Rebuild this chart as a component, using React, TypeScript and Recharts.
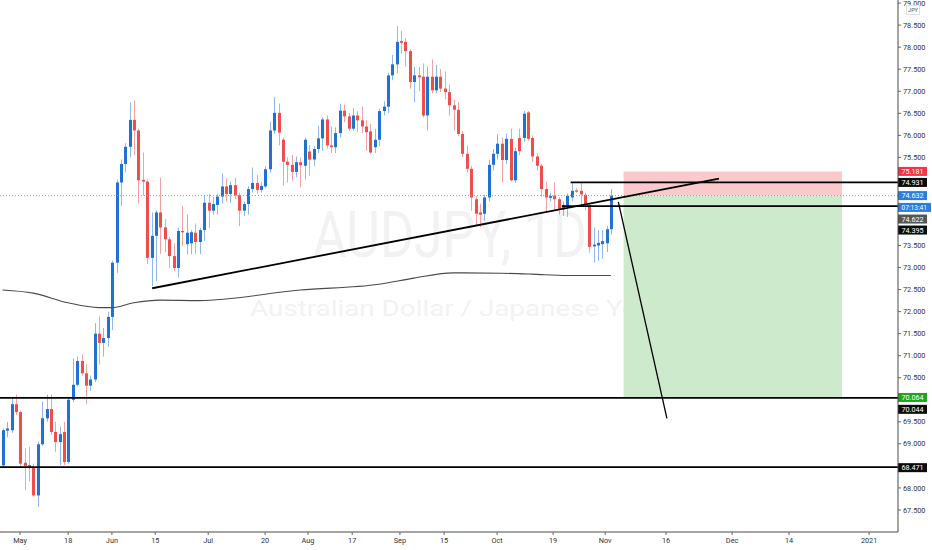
import React from 'react';
import {
  ComposedChart,
  Bar,
  Line,
  XAxis,
  YAxis,
  ReferenceLine,
  ReferenceArea,
} from 'recharts';

// AUDJPY daily candles, bar index 0 = 1 May 2020
const FIRST_INDEX = -4;

const opens = [
  68.51, 69.3, 69.31, 69.9, 69.72, 68.57, 68.52, 68.48, 67.83, 68.99,
  69.58, 69.79, 69.27, 69.04, 69.27, 68.59, 70.0, 70.34, 70.88, 70.6,
  70.32, 70.46, 71.5, 71.29, 71.4, 71.88, 73.11, 74.93, 75.35, 75.74,
  76.35, 76.11, 74.99, 74.95, 73.22, 73.72, 74.25, 73.91, 73.64, 73.26,
  72.99, 73.83, 73.53, 73.55, 73.79, 73.58, 73.85, 74.47, 74.29, 74.42,
  74.61, 74.84, 74.67, 74.87, 74.64, 74.29, 74.44, 74.78, 74.92, 74.76,
  74.84, 75.23, 76.11, 76.51, 75.9, 75.4, 75.33, 75.17, 75.39, 75.31,
  75.63, 75.45, 75.69, 75.93, 76.36, 75.77, 75.73, 76.05, 76.56, 76.43,
  76.15, 76.45, 76.34, 76.2, 76.09, 75.73, 75.9, 76.55, 76.65, 77.36,
  77.61, 78.14, 78.12, 77.91, 77.21, 77.36, 77.33, 76.45, 77.33, 77.02,
  77.33, 77.06, 76.98, 76.68, 76.58, 76.03, 75.58, 75.24, 74.55, 74.25,
  74.22, 74.59, 75.33, 75.58, 75.81, 75.44, 75.92, 74.98, 75.94, 75.94,
  76.52, 75.94, 75.52, 75.31, 74.78, 74.58, 74.63, 74.55, 74.32, 74.4,
  74.59, 74.75, 74.74, 74.65, 74.42, 73.48, 73.5, 73.53, 73.55, 73.87,
];
const highs = [
  69.35, 69.5, 70.07, 70.12, 69.75, 68.9, 68.93, 68.55, 69.05, 69.96,
  70.12, 70.12, 69.5, 69.39, 69.5, 70.05, 70.94, 70.98, 71.03, 70.8,
  70.55, 71.74, 71.89, 71.63, 72.0, 73.15, 75.0, 75.45, 75.82, 76.75,
  76.79, 76.15, 75.61, 75.0, 74.25, 74.3, 75.04, 74.1, 73.7, 73.55,
  73.9, 74.4, 74.2, 73.85, 74.0, 73.9, 74.63, 74.67, 74.6, 74.68,
  75.14, 75.02, 74.95, 75.04, 74.7, 74.5, 74.85, 75.27, 75.1, 74.95,
  75.3, 76.31, 76.87, 76.72, 75.95, 75.5, 75.55, 75.52, 75.5, 75.95,
  75.78, 75.75, 76.22, 76.41, 76.45, 76.2, 76.18, 76.72, 76.7, 76.5,
  76.62, 76.55, 76.65, 76.35, 76.26, 76.15, 76.6, 76.77, 77.42, 77.82,
  78.48, 78.37, 78.2, 77.95, 77.55, 77.55, 77.63, 77.56, 77.72, 77.6,
  77.5, 77.45, 77.15, 76.8, 76.75, 76.1, 75.77, 75.3, 74.62, 74.45,
  74.65, 75.45, 75.69, 76.03, 75.95, 76.04, 76.15, 75.72, 76.15, 76.55,
  76.55, 76.0, 75.6, 75.35, 74.95, 74.7, 74.93, 74.6, 74.5, 74.68,
  74.93, 74.8, 74.93, 74.7, 74.45, 73.91, 73.85, 73.85, 73.95, 74.78,
];
const lows = [
  68.45, 69.15, 69.25, 69.65, 68.45, 67.95, 68.15, 67.8, 67.57, 68.95,
  69.5, 69.2, 68.82, 68.52, 68.52, 68.55, 69.95, 70.3, 70.55, 69.9,
  70.2, 70.4, 70.8, 70.98, 71.2, 71.58, 72.88, 74.4, 75.16, 75.5,
  75.55, 74.45, 74.63, 73.08, 72.58, 72.69, 73.31, 73.35, 72.99, 72.92,
  72.77, 73.49, 73.3, 73.3, 73.31, 73.3, 73.6, 73.9, 74.2, 74.2,
  74.45, 74.5, 74.47, 74.55, 73.94, 74.17, 74.2, 74.7, 74.68, 74.7,
  74.8, 75.15, 76.03, 75.77, 74.86, 74.93, 74.97, 75.05, 74.82, 75.0,
  75.08, 75.3, 75.6, 75.65, 75.7, 75.6, 75.6, 75.95, 76.3, 76.1,
  76.1, 76.08, 76.05, 75.65, 75.57, 75.6, 75.75, 76.45, 76.5, 77.25,
  77.4, 77.85, 77.55, 77.06, 76.75, 77.0, 76.4, 76.11, 76.95, 76.95,
  76.98, 76.82, 76.45, 76.11, 75.98, 75.5, 75.15, 74.29, 73.95, 73.92,
  74.06, 74.5, 75.2, 75.45, 74.93, 75.35, 74.95, 74.92, 75.55, 75.85,
  75.88, 75.4, 75.2, 74.6, 74.25, 74.5, 74.3, 74.2, 74.17, 74.15,
  74.5, 74.7, 74.4, 74.3, 73.34, 73.11, 73.15, 73.2, 73.35, 73.75,
];
const closes = [
  69.31, 69.35, 69.9, 69.72, 68.55, 68.5, 68.47, 67.83, 68.99, 69.58,
  69.79, 69.27, 69.04, 69.22, 68.59, 70.0, 70.34, 70.88, 70.6, 70.32,
  70.46, 71.5, 71.29, 71.4, 71.88, 73.11, 74.93, 75.35, 75.74, 76.35,
  76.11, 74.98, 74.95, 73.22, 73.72, 74.25, 73.91, 73.64, 73.26, 72.99,
  73.83, 73.8, 73.79, 73.8, 73.58, 73.85, 74.47, 74.29, 74.44, 74.61,
  74.84, 74.67, 74.87, 74.64, 74.29, 74.44, 74.78, 74.92, 74.76, 74.85,
  75.23, 76.11, 76.51, 76.06, 75.4, 75.33, 75.17, 75.39, 75.32, 75.9,
  75.45, 75.69, 75.93, 76.36, 75.77, 75.73, 76.05, 76.56, 76.43, 76.15,
  76.45, 76.34, 76.2, 76.07, 75.61, 75.9, 76.55, 76.65, 77.36, 77.61,
  78.12, 78.1, 77.91, 77.21, 77.36, 77.32, 76.45, 77.33, 77.02, 77.33,
  77.06, 76.98, 76.68, 76.58, 76.03, 75.58, 75.24, 74.59, 74.22, 74.2,
  74.59, 75.33, 75.58, 75.81, 75.44, 75.92, 74.98, 75.64, 75.64, 76.49,
  75.92, 75.52, 75.31, 74.78, 74.59, 74.62, 74.55, 74.32, 74.42, 74.63,
  74.74, 74.72, 74.66, 74.42, 73.47, 73.52, 73.56, 73.6, 73.87, 74.63,
];

// moving average, read at a few bars
const maIndex = [-4, 3, 11, 18, 21, 26, 32, 41, 64, 82, 90, 99, 110, 117, 125, 135];
const maValue = [72.49, 72.42, 72.2, 72.09, 72.09, 72.2, 72.26, 72.25, 72.49, 72.62, 72.76, 72.88, 72.87, 72.85, 72.82, 72.82];

// time axis labels and where they sit (bar index)
const tickLabels = ['May', '18', 'Jun', '15', 'Jul', '20', 'Aug', '17', 'Sep', '15', 'Oct', '19', 'Nov', '16', 'Dec', '14', '2021'];
const tickAt = [0, 11, 21, 30.9, 43, 56, 65.8, 75.9, 86.8, 96.9, 109, 121.8, 133.7, 147.6, 162.7, 175.7, 194];

// price labels the scale shows (the ones under the tags are hidden)
const priceTicks = [67.5, 68, 69, 69.5, 70.5, 71, 71.5, 72, 72.5, 73, 73.5, 75.5, 76, 76.5, 77, 77.5, 78, 78.5, 79];

// drawn levels
const lastPrice = 74.632;
const stopLevel = 75.181;
const targetLevel = 70.064;
const resistance = 74.931;
const support = 74.395;
const lowerLevels = [70.044, 68.471];

const X_MIN = -4.57;
const X_MAX = 200.6;

const UP = '#1f72d2';
const DOWN = '#ef4f4b';
const UP_WICK = '#8fb9ec';
const DOWN_WICK = '#f2a3a1';

const candles = opens.map((o, k) => ({
  i: FIRST_INDEX + k,
  o,
  h: highs[k],
  l: lows[k],
  c: closes[k],
}));

const maData = maIndex.map((i, k) => ({ i, ma: maValue[k] }));

const Candle = (props: any) => {
  const { x, y, width, height, payload } = props;
  if (!payload) return null;
  const { o, h, l, c } = payload;
  const top = Math.min(y, y + height);
  const span = Math.abs(height);
  const py = (v: number) => top + (h === l ? 0 : ((h - v) / (h - l)) * span);
  const up = c >= o;
  const bTop = py(Math.max(o, c));
  const bBot = py(Math.min(o, c));
  const cx = Math.round(x + width / 2) + 0.5;
  return (
    <g>
      <line x1={cx} x2={cx} y1={top} y2={top + span} stroke={up ? UP_WICK : DOWN_WICK} strokeWidth={1} />
      <rect x={cx - 1.5} y={bTop} width={3} height={Math.max(1, bBot - bTop)} fill={up ? UP : DOWN} />
    </g>
  );
};

const tag = (text: string, bg: string, dy: number, w = 29, fs = 7.2) => (props: any) => {
  const vb = props.viewBox || {};
  const x = 898;
  const y = (vb.y || 0) + dy;
  return (
    <g>
      <rect x={x} y={y - 4.5} width={w} height={9} fill={bg} />
      <text x={x + 3.5} y={y + 2.7} fontSize={fs} fill="#fff" fontFamily="Roboto">
        {text}
      </text>
    </g>
  );
};

export default function App() {
  return (
    <div style={{ position: 'absolute', left: 0, top: 0, width: 932, height: 550, background: '#fff' }}>
      <svg width={932} height={550} style={{ position: 'absolute', left: 0, top: 0 }}>
        <text
          x={313}
          y={257}
          fontSize={64}
          fontFamily="Roboto"
          fill="#f2f2f4"
          textLength={274}
          lengthAdjust="spacingAndGlyphs"
        >
          AUDJPY, 1D
        </text>
        <text
          x={250}
          y={316}
          fontSize={22}
          fontFamily="Roboto"
          fill="#f2f2f4"
          textLength={402}
          lengthAdjust="spacingAndGlyphs"
        >
          Australian Dollar / Japanese Yen
        </text>
      </svg>
      <div style={{ position: 'absolute', left: 0, top: 0 }}>
        <ComposedChart
          width={932}
          height={550}
          data={candles}
          margin={{ top: 0, right: 0, bottom: 0, left: 0 }}
          style={{ fontFamily: 'Roboto' }}
        >
          <XAxis
            dataKey="i"
            type="number"
            domain={[X_MIN, X_MAX]}
            allowDataOverflow
            ticks={tickAt}
            interval={0}
            tickFormatter={(v: number) => tickLabels[tickAt.indexOf(v)] ?? ''}
            height={18}
            tickSize={3}
            tickMargin={3}
            tick={{ fontSize: 7.3, fill: '#333' }}
            axisLine={{ stroke: '#4a4a4a' }}
            tickLine={{ stroke: '#666' }}
          />
          <YAxis
            orientation="right"
            type="number"
            domain={[67.0, 79.07]}
            allowDataOverflow
            ticks={priceTicks}
            interval={0}
            tickFormatter={(v: number) => v.toFixed(3)}
            width={34}
            tickSize={3}
            tickMargin={2}
            tick={{ fontSize: 7.3, fill: '#333' }}
            axisLine={{ stroke: '#4a4a4a' }}
            tickLine={{ stroke: '#666' }}
          />

          <ReferenceArea x1={137.9} x2={187.8} y1={lastPrice} y2={stopLevel} fill="#f9c9cc" fillOpacity={1} stroke="none" />
          <ReferenceArea x1={137.9} x2={187.8} y1={targetLevel} y2={lastPrice} fill="#cdeacd" fillOpacity={1} stroke="none" />

          <ReferenceLine y={lastPrice} stroke="#6aa3ea" strokeDasharray="1 2" strokeWidth={1} />

          <Line
            data={maData}
            dataKey="ma"
            type="monotone"
            stroke="#4a4a4a"
            strokeWidth={1.1}
            dot={false}
            activeDot={false}
            isAnimationActive={false}
          />

          <Bar
            dataKey={(d: any) => [d.l, d.h]}
            barSize={3}
            shape={<Candle />}
            isAnimationActive={false}
          />

          {lowerLevels.map((v) => (
            <ReferenceLine key={v} y={v} stroke="#000" strokeWidth={1.8} />
          ))}
          <ReferenceLine segment={[{ x: 125.8, y: resistance }, { x: X_MAX, y: resistance }]} stroke="#000" strokeWidth={1.8} />
          <ReferenceLine segment={[{ x: 123.8, y: support }, { x: X_MAX, y: support }]} stroke="#000" strokeWidth={1.8} />
          <ReferenceLine segment={[{ x: 30.2, y: 72.53 }, { x: 159.7, y: 75.02 }]} stroke="#000" strokeWidth={1.8} />
          <ReferenceLine segment={[{ x: 136.7, y: 74.49 }, { x: 147.8, y: 69.58 }]} stroke="#000" strokeWidth={1.3} />

          <ReferenceLine y={stopLevel} stroke="none" strokeOpacity={0} label={tag('75.181', '#f23645', 0)} />
          <ReferenceLine y={resistance} stroke="none" strokeOpacity={0} label={tag('74.931', '#0b0b0b', 0)} />
          <ReferenceLine y={lastPrice} stroke="none" strokeOpacity={0} label={tag('74.632', '#2a7de1', 0)} />
          <ReferenceLine y={lastPrice} stroke="none" strokeOpacity={0} label={tag('07:13:41', '#2a7de1', 11.8, 33, 6.6)} />
          <ReferenceLine y={74.622} stroke="none" strokeOpacity={0} label={tag('74.622', '#555555', 23)} />
          <ReferenceLine y={support} stroke="none" strokeOpacity={0} label={tag('74.395', '#0b0b0b', 24)} />
          <ReferenceLine y={targetLevel} stroke="none" strokeOpacity={0} label={tag('70.064', '#1ea51e', 0.5)} />
          <ReferenceLine y={lowerLevels[0]} stroke="none" strokeOpacity={0} label={tag('70.044', '#0b0b0b', 11.5)} />
          <ReferenceLine y={lowerLevels[1]} stroke="none" strokeOpacity={0} label={tag('68.471', '#0b0b0b', 0.5)} />
        </ComposedChart>
      </div>
      <div
        style={{
          position: 'absolute',
          left: 906,
          top: 5,
          width: 12,
          height: 8,
          border: '1px solid #e0e0e0',
          fontFamily: 'Roboto',
          fontSize: 5.5,
          lineHeight: '8px',
          textAlign: 'center',
          color: '#555',
          background: '#fff',
        }}
      >
        JPY
      </div>
    </div>
  );
}
